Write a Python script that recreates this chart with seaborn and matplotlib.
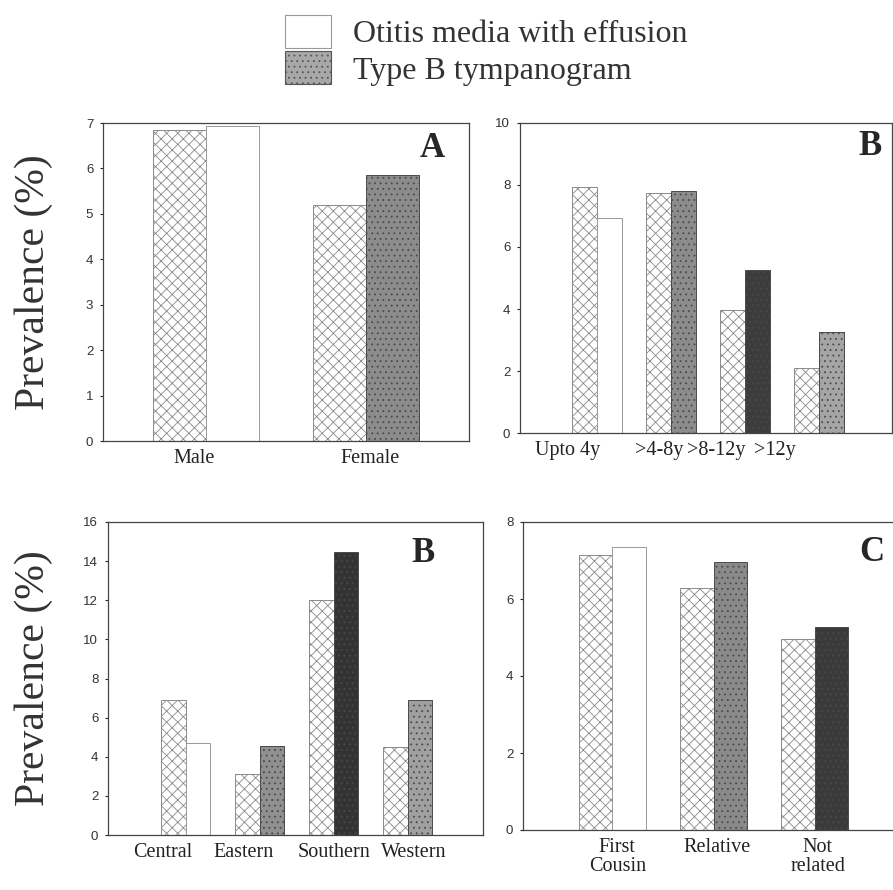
import matplotlib
matplotlib.use('Agg')
import matplotlib.pyplot as plt
from matplotlib.patches import Patch
import numpy as np
import pandas as pd
import seaborn as sns

SERIES = ['Otitis media with effusion', 'Type B tympanogram']

# panel A - sex
sex_cats = ['Male', 'Female']
sex_ome = [6.85, 5.2]
sex_tb = [6.94, 5.85]

# panel B (top) - age group
age_cats = ['Upto 4y', '>4-8y', '>8-12y', '>12y']
age_ome = [7.95, 7.75, 3.97, 2.09]
age_tb = [6.95, 7.8, 5.25, 3.27]

# panel B (bottom) - region
reg_cats = ['Central', 'Eastern', 'Southern', 'Western']
reg_ome = [6.92, 3.11, 11.99, 4.5]
reg_tb = [4.72, 4.55, 14.45, 6.92]

# panel C - consanguinity
rel_cats = ['First\nCousin', 'Relative', 'Not\nrelated']
rel_ome = [7.15, 6.28, 4.97]
rel_tb = [7.35, 6.97, 5.26]

sns.set_style('white')
plt.rcParams['font.family'] = ['Liberation Serif', 'DejaVu Serif']
plt.rcParams['hatch.linewidth'] = 0.6

SANS = ['Liberation Sans', 'DejaVu Sans']


def draw_panel(ax, cats, ome, tb, shades, ymax, ystep, xlim, tick_pos,
               letter, letter_xy, width=0.66):
    n = len(cats)
    df = pd.DataFrame({
        'group': list(cats) * 2,
        'series': [SERIES[0]] * n + [SERIES[1]] * n,
        'value': list(ome) + list(tb),
    })
    sns.barplot(data=df, x='group', y='value', hue='series', order=cats,
                hue_order=SERIES, width=width, palette=['white', '#999999'],
                saturation=1, errorbar=None, legend=False, ax=ax)
    # OME bars: crosshatched
    for p in ax.containers[0]:
        p.set_facecolor('white')
        p.set_hatch('xxx')
        p.set_edgecolor('#8a8a8a')
        p.set_linewidth(0.7)
    # Type B bars: shade varies by group
    for p, c in zip(ax.containers[1], shades):
        p.set_facecolor(c)
        p.set_linewidth(0.7)
        if c == 'white':
            p.set_edgecolor('#999999')
        else:
            p.set_edgecolor('#4a4a4a')
            p.set_hatch('...')

    ax.set_xlim(*xlim)
    ax.set_ylim(0, ymax)
    ax.set_yticks(np.arange(0, ymax + 0.1, ystep))
    ax.set_yticklabels([f'{v:g}' for v in np.arange(0, ymax + 0.1, ystep)],
                       family=SANS, fontsize=9.5, color='#333333')
    ax.set_xticks(tick_pos)
    ax.set_xticklabels(cats, fontsize=14.5, color='#222222', linespacing=1.0)
    ax.tick_params(axis='x', length=0, pad=6)
    ax.tick_params(axis='y', length=2, direction='out', pad=5, left=True)
    ax.set_xlabel('')
    ax.set_ylabel('')
    for s in ax.spines.values():
        s.set_visible(True)
        s.set_color('#444444')
        s.set_linewidth(0.9)
    ax.text(letter_xy[0], letter_xy[1], letter, transform=ax.transAxes,
            ha='center', va='center', fontsize=25, fontweight='bold',
            color='#262626')


fig = plt.figure(figsize=(8.93, 8.90), dpi=100)
W, H = 893, 890


def add_axes(x0, x1, ytop, ybot):
    return fig.add_axes([x0 / W, 1 - ybot / H, (x1 - x0) / W, (ybot - ytop) / H])


ax_a = add_axes(103, 469, 123, 441)
ax_b1 = add_axes(520, 892, 123, 433)
ax_b2 = add_axes(108, 483, 522, 835)
ax_c = add_axes(523, 904, 522, 830)

draw_panel(ax_a, sex_cats, sex_ome, sex_tb, ['white', '#8c8c8c'],
           7, 1, (-0.644, 1.644), [-0.075, 1.025], 'A', (0.90, 0.92))
draw_panel(ax_b1, age_cats, age_ome, age_tb,
           ['white', '#8c8c8c', '#3c3c3c', '#a5a5a5'],
           10, 2, (-1.04, 3.99), [-0.39, 0.84, 1.62, 2.41], 'B', (0.94, 0.925),
           width=0.68)
draw_panel(ax_b2, reg_cats, reg_ome, reg_tb,
           ['white', '#909090', '#333333', '#a0a0a0'],
           16, 2, (-1.05, 4.02), [-0.31, 0.78, 2.01, 3.09], 'B', (0.84, 0.90))
draw_panel(ax_c, rel_cats, rel_ome, rel_tb,
           ['white', '#8a8a8a', '#3a3a3a'],
           8, 2, (-0.88, 2.88), [0.05, 1.04, 2.03], 'C', (0.916, 0.90))

for ax, x0 in [(ax_a, 103), (ax_b2, 108)]:
    ax.set_ylabel('Prevalence (%)', fontsize=30, color='#333333')
    w = ax.get_position().width * W
    ax.yaxis.set_label_coords((53 - x0) / w, 0.5)

handles = [
    Patch(facecolor='white', edgecolor='#999999', linewidth=0.8),
    Patch(facecolor='#a8a8a8', edgecolor='#555555', hatch='...', linewidth=0.8),
]
fig.legend(handles, SERIES, loc='upper left', bbox_to_anchor=(272 / W, 1 - 2 / H),
           frameon=False, fontsize=23, handlelength=1.45, handleheight=1.2,
           handletextpad=0.7, labelspacing=0.08, borderaxespad=0,
           labelcolor='#333333')

fig.savefig('out.png', dpi=100)
